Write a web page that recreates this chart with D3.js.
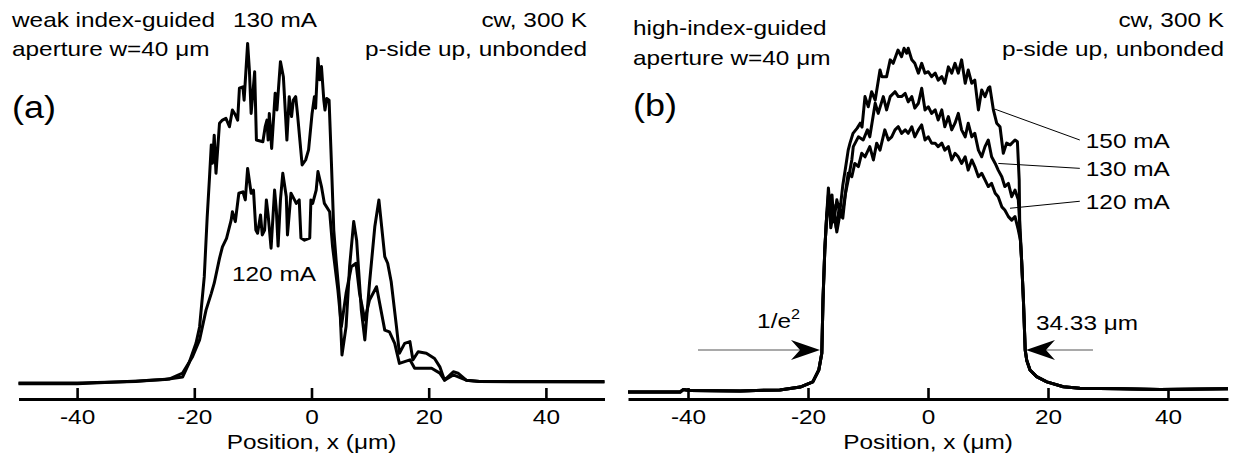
<!DOCTYPE html>
<html><head><meta charset="utf-8">
<script src="https://cdn.jsdelivr.net/npm/d3@7"></script>
<style>
body{margin:0;background:#fff}
text{font-family:"Liberation Sans",Arial,sans-serif;fill:#000}
</style>
</head><body>
<svg id="c" width="1239" height="462"></svg>
<script>
// ---------- data ----------
const xTicks = [-40, -20, 0, 20, 40];
const xTickLabels = ["-40", "-20", "0", "20", "40"];
const xTitle = "Position, x (μm)";

// Panel (a): weak index-guided, 130 mA and 120 mA (intensity, a.u.)
const aX130 = [-50,-40,-30,-27.7,-25,-22,-20.9,-19.7,-19.1,-18.3,-17.8,-17.4,-17.1,-16.9,-16.6,-16.3,-15.7,-15.2,-14.6,-14.0,-13.5,-13.0,-12.6,-12.3,-11.7,-11.5,-10.9,-10.6,-10.3,-9.7,-9.4,-8.3,-7.9,-7.6,-7.4,-7.2,-6.8,-6.2,-5.9,-5.3,-4.8,-4.2,-3.8,-3.4,-3.1,-2.7,-2.4,-1.6,-1.0,-0.5,0.1,0.5,0.7,1.1,1.4,1.7,2.1,2.3,2.6,3.0,3.4,3.8,4.2,4.8,5.2,5.9,6.5,7.2,7.7,8.5,9.1,9.9,10.8,11.5,12.5,13.0,13.6,14.5,15.0,15.9,16.8,17.3,18.2,19.6,21.0,21.9,22.7,24.2,25.0,26.4,28.7,50];
const aY130 = [0.3,0.3,0.7,1.1,1.3,2.0,6.0,11.7,16.3,30.6,47.7,59.2,68.3,63.1,71.1,60.2,74.5,75.4,75.9,73.5,78.3,76.9,75.4,84.5,84.9,81.1,97.3,89.7,77.3,89.2,69.7,69.2,73.5,75.4,69.7,77.3,67.3,83.1,78.3,92.1,87.8,69.7,82.1,76.4,81.1,82.1,77.3,62.6,64.0,66.9,77.3,82.1,78.8,93.1,86.9,90.7,81.1,78.3,81.6,81.1,63.1,44.0,35.4,24.0,8.3,16.4,33.5,46.4,41.1,21.1,12.6,28.8,44.9,52.6,36.4,34.5,29.2,16.4,8.8,11.6,12.1,6.9,9.2,8.8,7.3,4.9,1.1,3.5,3.1,1.1,0.7,0.7];
const aX120 = [-50,-40,-27.7,-24.3,-22.0,-20.3,-19.1,-18.0,-17.1,-16.6,-15.7,-15.2,-14.5,-13.7,-13.5,-13.0,-12.4,-11.7,-11.3,-10.9,-10.3,-9.9,-9.5,-9.2,-8.7,-8.4,-8.0,-7.7,-7.4,-6.9,-6.3,-6.0,-5.7,-5.3,-4.9,-4.3,-4.1,-3.5,-2.9,-2.6,-2.1,-1.8,-1.2,-0.3,-0.1,0.2,0.8,1.1,1.7,2.2,3.1,3.6,4.5,5.1,5.9,6.8,7.6,8.2,9.1,9.9,11.1,12.5,13.3,14.2,15.0,16.8,17.6,20.5,21.9,22.7,24.2,26.4,28.7,50];
const aY120 = [0.1,0.1,1.0,1.4,3.1,7.8,12.6,21.1,25.9,28.8,35.9,39.2,41.6,46.9,49.2,46.4,54.5,54.9,52.6,61.6,54.5,55.4,44.0,43.1,48.3,42.6,44.0,52.6,48.3,38.8,55.4,49.7,39.4,52.6,60.2,53.5,42.6,54.5,52.6,51.6,52.6,41.7,41.1,41.7,52.6,51.6,55.4,60.7,56.4,51.6,49.2,39.2,26.9,16.4,25.9,33.5,34.5,25.9,18.3,24.0,27.8,15.4,14.9,11.6,5.9,6.9,4.5,4.5,3.1,1.1,2.6,1.1,0.7,0.6];

// Panel (b): high-index-guided, shared edges + 150/130/120 mA tops
const bLeftX  = [-50,-41.3,-40.8,-39.7,-31.3,-24.7,-21.3,-19.2,-18.2,-17.7,-17.5,-17.2,-16.9];
const bLeftY  = [0,0,0.7,0.4,0.3,0.6,1.4,2.9,6.3,11.1,26.3,40.6,50.0];
const bRightX = [15.6,15.9,16.2,16.45,17.0,18.1,19.8,22.55,25.3,32,38.7,50];
const bRightY = [37.7,26.3,12.0,9.1,6.3,4.4,2.9,1.5,1.1,0.9,0.7,0.9];
const b150X = [-16.6,-16.3,-16.0,-15.7,-15.2,-14.7,-14.2,-13.8,-13.3,-13.0,-12.5,-11.8,-11.3,-11.0,-10.5,-9.95,-9.4,-8.8,-8.0,-7.7,-6.9,-6.3,-5.8,-5.0,-4.4,-4.0,-3.55,-3.3,-2.7,-2.2,-1.6,-1.05,-0.5,0.05,0.6,1.2,1.7,2.3,2.8,3.4,3.95,4.5,5.05,5.6,6.2,6.7,7.3,7.8,8.4,8.95,9.5,10.05,10.3,10.9,11.45,12.0,12.55,13.1,13.7,14.5,14.9,15.2,15.3];
const b150Y = [58.3,52.0,56.3,48.6,54.9,51.4,59.1,63.4,69.1,71.1,73.9,75.4,76.8,75.7,84.4,81.5,85.8,83.4,92.0,90.1,90.1,94.9,93.9,97.7,95.8,98.2,96.8,98.2,94.9,93.9,91.1,93.9,91.1,91.5,90.1,91.1,89.1,90.1,88.2,92.9,91.1,93.9,91.1,94.9,88.2,92.0,88.2,89.1,80.6,86.3,84.4,86.8,87.2,80.6,76.8,75.8,68.2,71.1,70.6,72.0,71.5,60.6,46.3];
const b130X = [-16.6,-16.25,-15.8,-15.3,-14.8,-14.3,-13.8,-13.3,-12.7,-12.45,-11.6,-10.8,-10.1,-9.7,-8.8,-8.3,-7.45,-6.9,-6.3,-5.5,-4.95,-4.4,-3.8,-3.3,-2.7,-2.2,-1.6,-1.05,-0.5,0.05,0.6,1.2,1.7,2.3,2.8,3.4,3.95,4.5,5.05,5.6,6.2,6.7,7.3,7.8,8.4,8.95,9.5,10.05,10.6,11.2,11.7,12.3,12.8,13.4,13.95,14.5,15.05,15.4];
const b130Y = [56.3,48.6,53.4,46.9,52.6,50.6,56.3,60.6,66.3,70.1,72.9,72.0,74.9,72.9,82.5,79.6,84.4,80.6,84.4,85.8,84.4,84.4,85.3,82.9,84.4,81.1,82.5,86.8,80.6,81.5,79.6,80.6,77.7,80.6,75.8,78.7,74.9,76.8,79.6,74.9,72.9,76.8,72.9,73.9,69.1,67.2,70.1,72.0,67.2,65.3,63.4,61.5,58.7,59.6,55.8,57.7,54.9,44.9];
const b120X = [-16.5,-16.2,-15.7,-15.2,-14.7,-14.2,-13.7,-13.3,-12.7,-12.2,-11.6,-11.05,-10.5,-9.7,-9.1,-8.55,-8.0,-7.2,-6.6,-6.05,-5.5,-4.95,-4.4,-3.8,-3.3,-2.7,-2.2,-1.6,-1.05,-0.5,0.05,0.6,1.2,1.7,2.3,2.8,3.4,3.95,4.5,5.05,5.6,6.2,6.7,7.3,7.8,8.4,8.95,9.5,10.05,10.6,11.2,11.7,12.3,12.8,13.4,13.95,14.5,15.05,15.4];
const b120Y = [54.9,46.9,52.0,45.7,50.6,49.7,57.7,62.5,61.5,65.3,64.4,68.2,67.2,70.1,66.3,71.1,69.1,74.9,72.0,72.9,74.9,75.8,73.9,74.9,73.9,75.8,72.9,74.9,76.3,72.0,72.9,71.1,71.1,70.1,71.1,69.1,70.1,66.3,68.2,67.2,65.3,67.2,63.4,66.3,64.4,61.5,62.5,60.6,58.7,59.6,56.8,55.8,52.9,52.0,50.1,49.1,50.1,46.3,43.4];

// annotations (b)
const bLabels = ["150 mA", "130 mA", "120 mA"];
const bLeaderFrom = [[11.17, 80.8], [11.72, 65.3], [13.67, 52.5]];
const bLeaderTo   = [[25.3, 72.0], [25.3, 63.9], [25.3, 54.5]];
const widthEdges = [-18, 16.33];   // 1/e^2 points, 34.33 um apart
const widthLevel = 12;

// ---------- drawing ----------
const svg = d3.select("#c");
const SX = 1.16, FS = 21;
const zip = (xs, ys) => d3.range(Math.min(xs.length, ys.length)).map(i => [xs[i], ys[i]]);

function label(x, y, s, anchor = "start", size = FS) {
  return svg.append("g").attr("transform", `translate(${x},${y}) scale(${SX},1)`)
    .append("text").attr("text-anchor", anchor).attr("font-size", size).text(s);
}

function panel(range, yRange) {
  const x = d3.scaleLinear().domain([-50, 50]).range(range);
  const y = d3.scaleLinear().domain([0, 100]).range(yRange);
  const ax = svg.append("g").attr("transform", "translate(0,399)")
    .call(d3.axisBottom(x).tickValues(xTicks).tickFormat((d, i) => xTickLabels[i])
      .tickSize(-11).tickSizeOuter(0).tickPadding(10));
  ax.select(".domain").attr("stroke", "#000").attr("stroke-width", 3.2);
  ax.selectAll(".tick line").attr("stroke", "#000").attr("stroke-width", 2.6);
  ax.selectAll(".tick text").attr("font-size", FS).attr("font-family", "Liberation Sans, Arial, sans-serif")
    .attr("transform", `scale(${SX},1)`).attr("fill", "#000");
  label(x(0), 449, xTitle, "middle");
  return {x, y};
}

function curve(p, pts) {
  const line = d3.line().x(d => p.x(d[0])).y(d => p.y(d[1]));
  svg.append("path").datum(pts).attr("d", line).attr("fill", "none")
    .attr("stroke", "#000").attr("stroke-width", 3).attr("stroke-linejoin", "round");
}

// Panel (a)
const A = panel([18.5, 604.5], [384, 34]);
curve(A, zip(aX120, aY120));
curve(A, zip(aX130, aY130));
label(12, 27, "weak index-guided");
label(12, 56, "aperture w=40 μm");
label(233, 27, "130 mA");
label(587, 27, "cw, 300 K", "end");
label(587, 56, "p-side up, unbonded", "end");
label(12, 118, "(a)", "start", 31);
label(232, 281, "120 mA");

// Panel (b)
const B = panel([628, 1228], [392, 42]);
[[b120X, b120Y], [b130X, b130Y], [b150X, b150Y]].forEach(([xs, ys]) => {
  curve(B, zip(bLeftX, bLeftY).concat(zip(xs, ys), zip(bRightX, bRightY)));
});
label(633, 35, "high-index-guided");
label(633, 65, "aperture w=40 μm");
label(633, 116, "(b)", "start", 31);
label(1224, 27, "cw, 300 K", "end");
label(1224, 56, "p-side up, unbonded", "end");

bLabels.forEach((s, i) => {
  const f = bLeaderFrom[i], t = bLeaderTo[i];
  svg.append("line").attr("x1", B.x(f[0])).attr("y1", B.y(f[1]))
    .attr("x2", B.x(t[0])).attr("y2", B.y(t[1])).attr("stroke", "#000").attr("stroke-width", 1);
  label(B.x(t[0]) + 6, B.y(t[1]) + 7.5, s);
});

// 1/e^2 arrows
const yl = B.y(widthLevel);
const xl = B.x(widthEdges[0]), xr = B.x(widthEdges[1]);
svg.append("line").attr("x1", xl - 122).attr("x2", xl - 18).attr("y1", yl).attr("y2", yl)
  .attr("stroke", "#555").attr("stroke-width", 1.2);
svg.append("path").attr("d", `M${xl},${yl} L${xl-29},${yl-10} L${xl-20},${yl} L${xl-29},${yl+10} Z`).attr("fill", "#000");
svg.append("line").attr("x1", xr + 18).attr("x2", xr + 67).attr("y1", yl).attr("y2", yl)
  .attr("stroke", "#555").attr("stroke-width", 1.2);
svg.append("path").attr("d", `M${xr},${yl} L${xr+29},${yl-10} L${xr+20},${yl} L${xr+29},${yl+10} Z`).attr("fill", "#000");

const e2 = svg.append("g").attr("transform", `translate(${xl - 20},${yl - 22}) scale(${SX},1)`)
  .append("text").attr("text-anchor", "end").attr("font-size", FS);
e2.append("tspan").text("1/e");
e2.append("tspan").attr("font-size", 14).attr("dy", -9).text("2");
label(xr + 10, yl - 20, "34.33 μm");
</script>
</body></html>
